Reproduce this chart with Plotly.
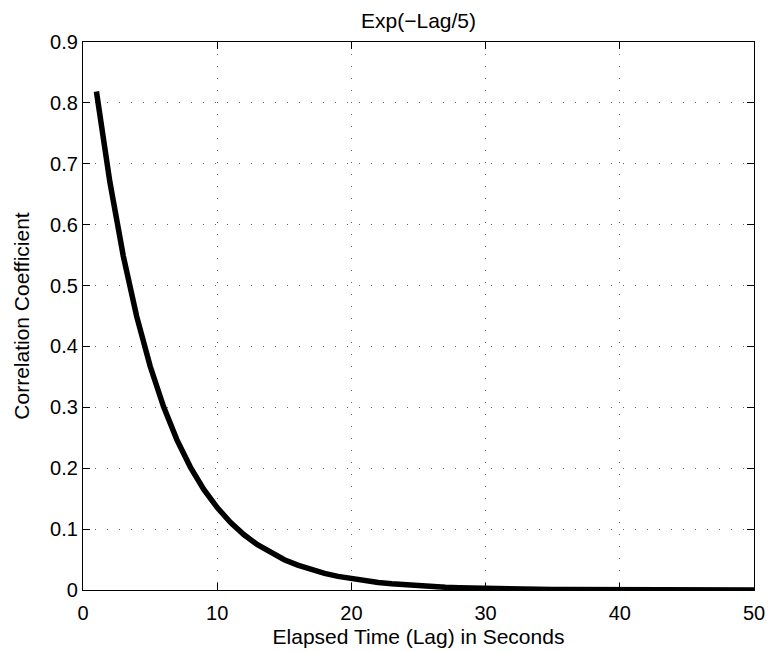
import plotly.graph_objects as go

lag = list(range(1, 51))
corr = [0.8187, 0.6703, 0.5488, 0.4493, 0.3679, 0.3012, 0.2466, 0.2019, 0.1653, 0.1353,
        0.1108, 0.0907, 0.0743, 0.0608, 0.0498, 0.0408, 0.0334, 0.0273, 0.0224, 0.0183,
        0.0150, 0.0123, 0.0101, 0.0082, 0.0067, 0.0055, 0.0045, 0.0037, 0.0030, 0.0025,
        0.0020, 0.0017, 0.0014, 0.0011, 0.0009, 0.0007, 0.0006, 0.0005, 0.0004, 0.0003,
        0.0003, 0.0002, 0.0002, 0.0002, 0.0001, 0.0001, 0.0001, 0.0001, 0.0001, 0.0000]
x_ticks = [0, 10, 20, 30, 40, 50]
y_ticks = [0, 0.1, 0.2, 0.3, 0.4, 0.5, 0.6, 0.7, 0.8, 0.9]
y_tick_labels = ["0", "0.1", "0.2", "0.3", "0.4", "0.5", "0.6", "0.7", "0.8", "0.9"]

FONT = "Liberation Sans, Arial, Helvetica, sans-serif"

fig = go.Figure()
fig.add_trace(go.Scatter(x=lag, y=corr, mode="lines",
                         line=dict(color="black", width=5.5), hoverinfo="skip"))

axis_common = dict(
    showline=True, linecolor="black", linewidth=1.2, mirror="ticks",
    ticks="inside", ticklen=7, tickcolor="black", tickwidth=1,
    showgrid=True, gridcolor="#666666", gridwidth=1, griddash="1px,11px",
    zeroline=False, automargin=False,
    tickfont=dict(family=FONT, size=20, color="black"),
)

fig.update_layout(
    width=768, height=652,
    margin=dict(l=83, r=14, t=42, b=62),
    paper_bgcolor="white", plot_bgcolor="white",
    showlegend=False,
    font=dict(family=FONT, size=20, color="black"),
    title=dict(text="Exp(\u2212Lag/5)", x=0.545, xanchor="center",
               y=1 - 21 / 652, yanchor="middle", yref="container",
               font=dict(family=FONT, size=21, color="black")),
    xaxis=dict(range=[0, 50], tickvals=x_ticks, ticklabelstandoff=5,
               title=dict(text="Elapsed Time (Lag) in Seconds", standoff=6,
                          font=dict(family=FONT, size=21)),
               **axis_common),
    yaxis=dict(range=[0, 0.9], tickvals=y_ticks, ticktext=y_tick_labels,
               title=dict(text="Correlation Coefficient", standoff=14,
                          font=dict(family=FONT, size=21)),
               **axis_common),
)

fig.write_html("out.html")
